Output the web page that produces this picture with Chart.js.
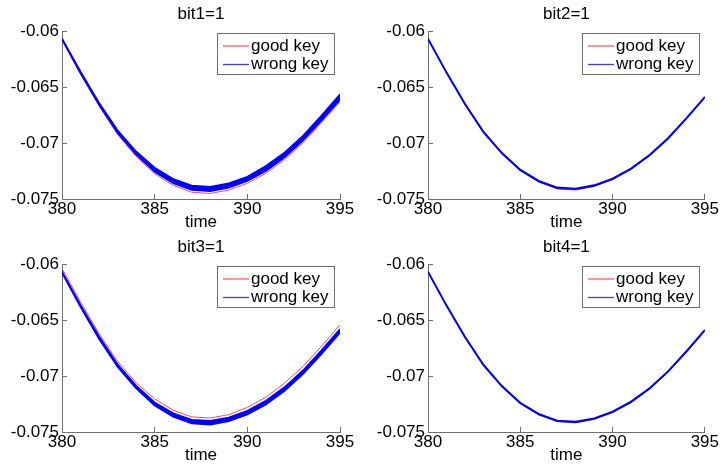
<!DOCTYPE html>
<html>
<head>
<meta charset="utf-8">
<script src="https://cdn.jsdelivr.net/npm/chart.js@4/dist/chart.umd.min.js"></script>
<style>
  html, body { margin: 0; padding: 0; background: #ffffff; }
  #fig { position: relative; width: 724px; height: 466px; overflow: hidden; }
  #fig canvas { position: absolute; }
</style>
</head>
<body>
<div id="fig">
  <canvas id="p1" width="362" height="233" style="left:0px;top:0px"></canvas>
  <canvas id="p2" width="362" height="233" style="left:362px;top:0px"></canvas>
  <canvas id="p3" width="362" height="233" style="left:0px;top:233px"></canvas>
  <canvas id="p4" width="362" height="233" style="left:362px;top:233px"></canvas>
</div>
<script>
// Sample times (x) shared by every panel
const times = [380, 381, 382, 383, 384, 385, 386, 387, 388, 389, 390, 391, 392, 393, 394, 395];

const xTickValues = [380, 385, 390, 395];
const xTickLabels = ['380', '385', '390', '395'];
const yTickValues = [-0.075, -0.07, -0.065, -0.06];
const yTickLabels = ['-0.075', '-0.07', '-0.065', '-0.06'];

const panelTitles = ['bit1=1', 'bit2=1', 'bit3=1', 'bit4=1'];
const seriesNames = ['good key', 'wrong key'];
const xAxisTitle = 'time';

// bit1 = 1
const goodKey1 = [-0.0608, -0.06385, -0.0667, -0.06925, -0.0712, -0.07275, -0.07378, -0.0744, -0.0745, -0.0742, -0.0736, -0.0727, -0.0715, -0.0700, -0.0682, -0.06632];
const wrongKeyTop1 = [-0.06065, -0.0636, -0.0664, -0.06885, -0.07075, -0.0722, -0.0732, -0.0738, -0.0739, -0.0736, -0.0730, -0.07205, -0.07085, -0.06935, -0.06755, -0.06565];
const wrongKeyBottom1 = [-0.06075, -0.06378, -0.0666, -0.06912, -0.07105, -0.07258, -0.0736, -0.0742, -0.0743, -0.0740, -0.0734, -0.0725, -0.0713, -0.0698, -0.06802, -0.06615];

// bit2 = 1
const goodKey2 = [-0.0607, -0.0637, -0.0665, -0.06902, -0.07093, -0.07245, -0.07348, -0.0741, -0.0742, -0.07388, -0.07325, -0.07233, -0.07112, -0.0696, -0.0678, -0.0659];
const wrongKeyTop2 = [-0.06066, -0.06366, -0.06646, -0.06896, -0.07086, -0.07236, -0.07336, -0.07396, -0.07406, -0.07376, -0.07316, -0.07226, -0.07106, -0.06956, -0.06776, -0.06586];
const wrongKeyBottom2 = [-0.06074, -0.06374, -0.06654, -0.06904, -0.07094, -0.07244, -0.07344, -0.07404, -0.07414, -0.07384, -0.07324, -0.07234, -0.07114, -0.06964, -0.06784, -0.06594];

// bit3 = 1
const goodKey3 = [-0.0604, -0.0634, -0.0662, -0.0687, -0.0706, -0.07205, -0.07305, -0.07365, -0.07375, -0.07345, -0.0728, -0.0719, -0.07065, -0.06915, -0.06735, -0.06542];
const wrongKeyTop3 = [-0.06065, -0.06365, -0.06645, -0.06895, -0.07085, -0.07235, -0.07332, -0.0739, -0.0740, -0.0737, -0.0731, -0.0722, -0.0710, -0.0695, -0.0677, -0.0658];
const wrongKeyBottom3 = [-0.0608, -0.06385, -0.0667, -0.0692, -0.07112, -0.07265, -0.07365, -0.07425, -0.07435, -0.07405, -0.07345, -0.07255, -0.07135, -0.06985, -0.06805, -0.06615];

// bit4 = 1
const goodKey4 = [-0.0607, -0.0637, -0.0665, -0.0690, -0.0709, -0.07243, -0.07345, -0.07405, -0.07415, -0.07385, -0.07322, -0.0723, -0.0711, -0.0696, -0.0678, -0.0659];
const wrongKeyTop4 = [-0.06066, -0.06366, -0.06646, -0.06896, -0.07086, -0.07237, -0.07337, -0.07397, -0.07407, -0.07377, -0.07317, -0.07227, -0.07107, -0.06957, -0.06777, -0.06586];
const wrongKeyBottom4 = [-0.06074, -0.06374, -0.06654, -0.06904, -0.07094, -0.07245, -0.07345, -0.07405, -0.07415, -0.07385, -0.07325, -0.07235, -0.07115, -0.06965, -0.06785, -0.06594];

const FONT = '"Liberation Sans", Arial, Helvetica, sans-serif';
const GOOD_COLOR = '#ff4a4a';
const WRONG_COLOR = '#0000ff';
const AXIS_COLOR = '#6f6f6f';

Chart.defaults.font.family = FONT;
Chart.defaults.color = '#000000';

// Legend box drawn inside the top-right corner of the plot area
const insetLegend = {
  id: 'insetLegend',
  afterDraw(chart) {
    const { ctx, chartArea } = chart;
    const items = chart.data.datasets.filter(d => d.label);
    const w = 118, h = 42;
    const x0 = Math.round(chartArea.right - 5 - w);
    const y0 = Math.round(chartArea.top + 2);
    ctx.save();
    ctx.fillStyle = '#ffffff';
    ctx.fillRect(x0, y0, w, h);
    ctx.strokeStyle = AXIS_COLOR;
    ctx.lineWidth = 1;
    ctx.strokeRect(x0 + 0.5, y0 + 0.5, w - 1, h - 1);
    ctx.font = '17px ' + FONT;
    ctx.textBaseline = 'middle';
    ctx.textAlign = 'left';
    items.forEach((d, i) => {
      const yy = y0 + 13 + i * 18.5;
      ctx.strokeStyle = d.legendColor;
      ctx.lineWidth = 1.3;
      ctx.beginPath();
      ctx.moveTo(x0 + 6, yy);
      ctx.lineTo(x0 + 32, yy);
      ctx.stroke();
      ctx.fillStyle = '#000000';
      ctx.fillText(d.label, x0 + 34, yy);
    });
    ctx.restore();
  }
};

function points(values) {
  return values.map((v, i) => ({ x: times[i], y: v }));
}

function makePanel(canvasId, title, good, wrongTop, wrongBottom, yAxisWidth, rightPad) {
  new Chart(document.getElementById(canvasId), {
    type: 'line',
    data: {
      datasets: [
        { label: seriesNames[0], legendColor: '#ff5c5c', data: points(good), borderColor: GOOD_COLOR, borderWidth: 1, order: 2, fill: false },
        { label: seriesNames[1], legendColor: '#3c3cff', data: points(wrongTop), borderColor: WRONG_COLOR, borderWidth: 1.5, order: 1, fill: false },
        { label: '', data: points(wrongBottom), borderColor: WRONG_COLOR, backgroundColor: WRONG_COLOR, borderWidth: 1.5, order: 1, fill: '-1' }
      ]
    },
    options: {
      responsive: false,
      animation: false,
      devicePixelRatio: 1,
      layout: { padding: { left: 0, right: rightPad, top: 0, bottom: 0 } },
      elements: { point: { radius: 0 }, line: { tension: 0 } },
      plugins: {
        legend: { display: false },
        tooltip: { enabled: false },
        title: {
          display: true, text: title, fullSize: false, color: '#000000',
          font: { size: 17, weight: 'normal', family: FONT },
          padding: { top: 3.8, bottom: 6.8 }
        }
      },
      scales: {
        x: {
          type: 'linear', min: 380, max: 395,
          afterBuildTicks: s => { s.ticks = xTickValues.map(v => ({ value: v })); },
          afterFit: s => { s.height = 34; },
          ticks: {
            autoSkip: false, maxRotation: 0, padding: 5, color: '#000000',
            font: { size: 17, family: FONT },
            callback: v => xTickLabels[xTickValues.indexOf(v)]
          },
          grid: { drawOnChartArea: false, drawTicks: true, tickLength: -5, color: AXIS_COLOR },
          border: { display: true, color: AXIS_COLOR, width: 1 },
          title: { display: true, text: xAxisTitle, color: '#000000', font: { size: 17, family: FONT }, padding: { top: 0, bottom: 0 } }
        },
        y: {
          type: 'linear', min: -0.075, max: -0.06,
          afterBuildTicks: s => { s.ticks = yTickValues.map(v => ({ value: v })); },
          afterFit: s => { s.width = yAxisWidth; },
          ticks: {
            autoSkip: false, padding: 8, color: '#000000',
            font: { size: 17, family: FONT },
            callback: v => yTickLabels[yTickValues.indexOf(v)]
          },
          grid: { drawOnChartArea: false, drawTicks: true, tickLength: -5, color: AXIS_COLOR },
          border: { display: true, color: AXIS_COLOR, width: 1 }
        }
      }
    },
    plugins: [insetLegend]
  });
}

makePanel('p1', panelTitles[0], goodKey1, wrongKeyTop1, wrongKeyBottom1, 62, 22);
makePanel('p2', panelTitles[1], goodKey2, wrongKeyTop2, wrongKeyBottom2, 66, 19);
makePanel('p3', panelTitles[2], goodKey3, wrongKeyTop3, wrongKeyBottom3, 62, 22);
makePanel('p4', panelTitles[3], goodKey4, wrongKeyTop4, wrongKeyBottom4, 66, 19);
</script>
</body>
</html>
